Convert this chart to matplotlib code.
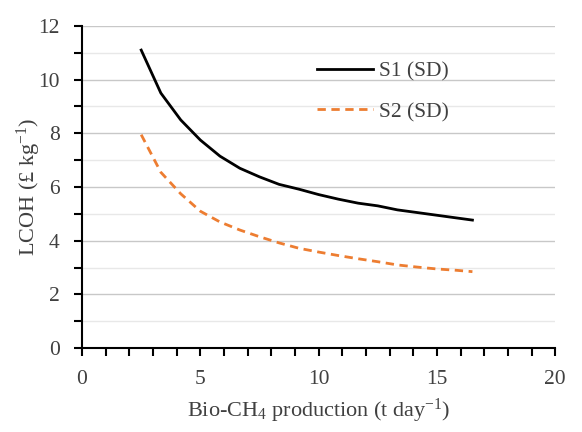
import matplotlib
matplotlib.use("Agg")
import matplotlib.pyplot as plt
from matplotlib.ticker import MultipleLocator

# Bio-CH4 production (t/day) and LCOH (GBP/kg)
production = [2.5, 3.33, 4.17, 5.0, 5.83, 6.67, 7.5, 8.33, 9.17, 10.0,
              10.83, 11.67, 12.5, 13.33, 14.17, 15.0, 15.83, 16.5]
lcoh_s1 = [11.1, 9.5, 8.5, 7.75, 7.15, 6.7, 6.38, 6.1, 5.92, 5.72,
           5.55, 5.4, 5.3, 5.15, 5.05, 4.95, 4.85, 4.77]
lcoh_s2 = [7.95, 6.55, 5.75, 5.1, 4.7, 4.4, 4.15, 3.92, 3.72, 3.58,
           3.45, 3.33, 3.22, 3.1, 3.02, 2.95, 2.9, 2.85]
series_labels = ["S1 (SD)", "S2 (SD)"]

plt.rcParams["font.family"] = ["Liberation Serif", "DejaVu Serif"]
plt.rcParams["mathtext.fontset"] = "custom"
plt.rcParams["mathtext.rm"] = "Liberation Serif"
plt.rcParams["mathtext.it"] = "Liberation Serif:italic"

text_color = "#404040"

fig = plt.figure(figsize=(5.82, 4.32), dpi=100)
ax = fig.add_axes([0.141, 0.194, 0.813, 0.746])

ax.plot(production, lcoh_s1, color="black", lw=2.0, label=series_labels[0])
ax.plot(production, lcoh_s2, color="#ed7d31", lw=2.0, ls=(0, (3, 2)),
        label=series_labels[1])

ax.set_xlim(0, 20)
ax.set_ylim(0, 12)
ax.xaxis.set_major_locator(MultipleLocator(5))
ax.xaxis.set_minor_locator(MultipleLocator(1))
ax.yaxis.set_major_locator(MultipleLocator(2))
ax.yaxis.set_minor_locator(MultipleLocator(1))

ax.grid(True, which="major", axis="y", color="#c8c8c8", lw=1.0)
ax.grid(True, which="minor", axis="y", color="#e8e8e8", lw=1.0)
ax.set_axisbelow(True)

for side in ["top", "right"]:
    ax.spines[side].set_visible(False)
for side in ["left", "bottom"]:
    ax.spines[side].set_linewidth(1.5)
    ax.spines[side].set_color("black")

ax.tick_params(which="both", direction="out", length=6, width=1.5,
               color="black", labelsize=15.5, labelcolor=text_color)
ax.tick_params(axis="x", pad=10)
ax.tick_params(axis="y", pad=10)

ax.set_xlabel(r"Bio-CH$_4$ production (t day$^{-1}$)", fontsize=16,
              color=text_color, labelpad=5)
ax.set_ylabel(r"LCOH (£ kg$^{-1}$)", fontsize=16, color=text_color,
              labelpad=-3)

ax.legend(loc="upper left", bbox_to_anchor=(0.455, 0.95), frameon=False,
          fontsize=15.5, handlelength=2.6, handletextpad=0.3,
          labelspacing=0.95, labelcolor=text_color)

fig.savefig("out.png", dpi=100)
